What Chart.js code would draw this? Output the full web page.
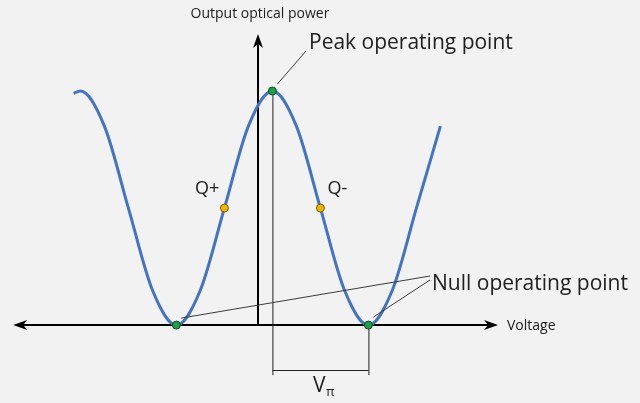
<!DOCTYPE html>
<html>
<head>
<meta charset="utf-8">
<script src="https://cdn.jsdelivr.net/npm/chart.js@4"></script>
<style>
  body { margin: 0; background: #f2f2f2; }
  #wrap { width: 640px; height: 403px; }
</style>
</head>
<body>
<div id="wrap"><canvas id="modChart" width="640" height="403"></canvas></div>
<script>
// voltage in units of Vpi (0 = power axis), power normalised to the peak
const curveV = [-1.92, -1.85, -1.6, -1.35, -1.1, -0.85, -0.6, -0.35, -0.1, 0.15, 0.4, 0.65, 0.9, 1.15, 1.4, 1.65, 1.9];
const curveP = [0.99, 1, 0.85, 0.5, 0.15, 0, 0.15, 0.5, 0.85, 1, 0.85, 0.5, 0.15, 0, 0.15, 0.5, 0.85];

const peakV = [0.15];
const peakP = [1];
const nullV = [-0.85, 1.15];
const nullP = [0, 0];
const quadV = [-0.35, 0.65];
const quadP = [0.5, 0.5];
const quadLabels = ['Q+', 'Q-'];

const toXY = (xs, ys) => xs.map((x, i) => ({x: x, y: ys[i]}));

const FONT = '"Open Sans", "Noto Sans", sans-serif';

function arrowHead(ctx, x, y, dir) {
    // dir: 'right' | 'left' | 'up'
    ctx.save();
    ctx.translate(x, y);
    if (dir == 'left') ctx.rotate(Math.PI);
    if (dir == 'up') ctx.rotate(-Math.PI / 2);
    ctx.beginPath();
    ctx.moveTo(0, 0);
    ctx.lineTo(-14, -5);
    ctx.lineTo(-10, 0);
    ctx.lineTo(-14, 5);
    ctx.closePath();
    ctx.fill();
    ctx.restore();
}

// axes, bracket and labels of the diagram
const diagram = {
    id: 'diagram',
    beforeDatasetsDraw(chart) {
        const ctx = chart.ctx;
        const xs = chart.scales.x, ys = chart.scales.y;
        const X = v => xs.getPixelForValue(v);
        const Y = v => ys.getPixelForValue(v);
        ctx.save();
        ctx.strokeStyle = '#000';
        ctx.fillStyle = '#000';
        ctx.lineWidth = 2;
        // voltage axis
        ctx.beginPath();
        ctx.moveTo(X(-2.50), Y(0));
        ctx.lineTo(X(2.45), Y(0));
        ctx.stroke();
        arrowHead(ctx, X(2.50), Y(0), 'right');
        arrowHead(ctx, X(-2.55), Y(0), 'left');
        // power axis
        ctx.beginPath();
        ctx.moveTo(X(0), Y(0));
        ctx.lineTo(X(0), Y(1.20));
        ctx.stroke();
        arrowHead(ctx, X(0), Y(1.244), 'up');

        // Vpi bracket
        ctx.lineWidth = 1;
        ctx.strokeStyle = '#222';
        ctx.beginPath();
        ctx.moveTo(X(peakV[0]) + 0.5, Y(peakP[0]));
        ctx.lineTo(X(peakV[0]) + 0.5, Y(-0.214));
        ctx.moveTo(X(nullV[1]) + 0.5, Y(0));
        ctx.lineTo(X(nullV[1]) + 0.5, Y(-0.214));
        ctx.moveTo(X(peakV[0]), Y(-0.192) + 0.5);
        ctx.lineTo(X(nullV[1]), Y(-0.192) + 0.5);
        ctx.stroke();
        ctx.restore();
    },
    afterDatasetsDraw(chart) {
        const ctx = chart.ctx;
        const xs = chart.scales.x, ys = chart.scales.y;
        const X = v => xs.getPixelForValue(v);
        const Y = v => ys.getPixelForValue(v);
        ctx.save();
        // leader lines
        ctx.strokeStyle = '#3a3a3a';
        ctx.lineWidth = 1;
        ctx.beginPath();
        ctx.moveTo(X(peakV[0]) + 5, Y(peakP[0]) - 7);
        ctx.lineTo(306, 51);
        ctx.moveTo(X(nullV[0]) + 5, Y(0) - 7);
        ctx.lineTo(430, 276);
        ctx.moveTo(X(nullV[1]) + 5, Y(0) - 8);
        ctx.lineTo(430, 280);
        ctx.stroke();

        ctx.fillStyle = '#202020';
        ctx.textBaseline = 'middle';
        ctx.textAlign = 'left';
        ctx.font = '21px ' + FONT;
        ctx.fillText('Peak operating point', 309, 43);
        ctx.fillText('Null operating point', 432, 284);

        ctx.font = '18px ' + FONT;
        ctx.textAlign = 'right';
        ctx.fillText(quadLabels[0], X(quadV[0]) - 5, Y(quadP[0]) - 19);
        ctx.textAlign = 'left';
        ctx.fillText(quadLabels[1], X(quadV[1]) + 7, Y(quadP[1]) - 19);

        ctx.font = '14px ' + FONT;
        ctx.fillText('Voltage', 507, Y(0) + 1);
        ctx.textAlign = 'center';
        ctx.fillText('Output optical power', X(0) + 2, 14);

        // V pi
        ctx.font = '21px ' + FONT;
        ctx.textAlign = 'left';
        ctx.fillText('V', 313, 386);
        ctx.font = '13px ' + FONT;
        ctx.fillText('π', 326, 392);
        ctx.restore();
    }
};

const ctx = document.getElementById('modChart').getContext('2d');
const chart = new Chart(ctx, {
    type: 'scatter',
    data: {
        datasets: [{
            label: 'Output power',
            data: toXY(curveV, curveP),
            showLine: true,
            borderColor: '#4472c4',
            borderWidth: 3,
            pointRadius: 0,
            cubicInterpolationMode: 'monotone',
            order: 3
        }, {
            label: 'Quadrature',
            data: toXY(quadV, quadP),
            backgroundColor: '#f2b400',
            borderColor: '#7a5c00',
            borderWidth: 1,
            pointRadius: 4,
            order: 1
        }, {
            label: 'Peak',
            data: toXY(peakV, peakP),
            backgroundColor: '#1f9e4a',
            borderColor: '#0d4a22',
            borderWidth: 1,
            pointRadius: 4,
            order: 1
        }, {
            label: 'Null',
            data: toXY(nullV, nullP),
            backgroundColor: '#1f9e4a',
            borderColor: '#0d4a22',
            borderWidth: 1,
            pointRadius: 4,
            order: 1
        }]
    },
    options: {
        responsive: false,
        animation: false,
        layout: { padding: 0, autoPadding: false },
        plugins: {
            legend: { display: false },
            tooltip: { enabled: false }
        },
        scales: {
            x: { type: 'linear', display: false, min: -2.6875, max: 3.979 },
            y: { type: 'linear', display: false, min: -0.333, max: 1.389 }
        }
    },
    plugins: [diagram]
});
</script>
</body>
</html>
